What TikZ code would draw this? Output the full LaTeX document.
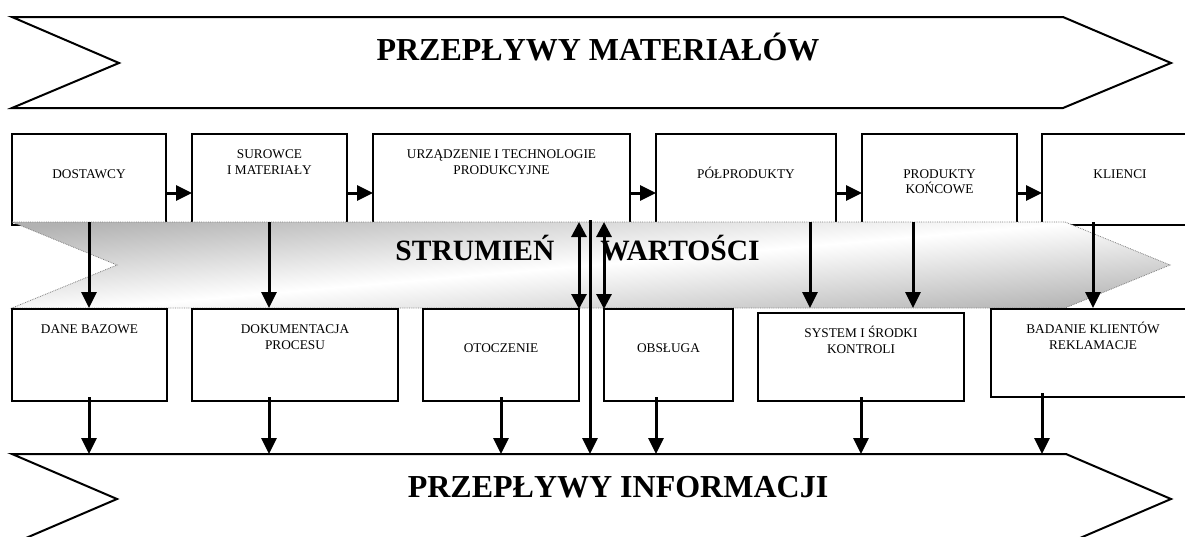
\documentclass[tikz,border=0pt]{standalone}
\usepackage{fontspec}
\setmainfont{Liberation Serif}
\usetikzlibrary{arrows.meta,calc}
\begin{document}
\begin{tikzpicture}[x=1pt,y=-1pt,
  box/.style={draw,line width=2pt,inner sep=0pt,outer sep=0pt,fill=white},
  lbl/.style={anchor=base,align=center,inner sep=0pt,font=\fontsize{13.3}{16}\selectfont},
  arr/.style={line width=3pt,-{Triangle[length=16pt,width=15pt]}},
  darr/.style={line width=3pt,{Triangle[length=15pt,width=15pt]}-{Triangle[length=15pt,width=15pt]}},
  big/.style={draw,line width=2pt,line join=miter},
  title/.style={anchor=base,inner sep=0pt,font=\fontsize{32}{38}\selectfont\bfseries}]
\useasboundingbox (0,0) rectangle (1185,536);

% top big arrow
\draw[big] (12,17) -- (1063,17) -- (1171,63) -- (1063,108) -- (12,108) -- (119,63) -- cycle;
\node[title] (tmat) at (598,60) {PRZEPŁYWY MATERIAŁÓW};

% top boxes
\node[box,minimum width=154pt,minimum height=91pt] (dost) at (89,179.5) {};
\node[box,minimum width=155pt,minimum height=91pt] (sur) at (269.5,179.5) {};
\node[box,minimum width=257pt,minimum height=91pt] (urz) at (501.5,179.5) {};
\node[box,minimum width=180pt,minimum height=91pt] (pol) at (746,179.5) {};
\node[box,minimum width=155pt,minimum height=91pt] (prod) at (939.5,179.5) {};
\node[box,minimum width=156pt,minimum height=91pt] (kli) at (1120,179.5) {};

\node[lbl] (tdost) at (89,178) {DOSTAWCY};
\node[lbl] (tsur) at (269.5,174) {SUROWCE\\I MATERIAŁY};
\node[lbl] (turz) at (501.5,174) {URZĄDZENIE I TECHNOLOGIE\\PRODUKCYJNE};
\node[lbl] (tpol) at (746,178) {PÓŁPRODUKTY};
\node[lbl,font=\fontsize{13.3}{15}\selectfont] (tprod) at (939.5,193) {PRODUKTY\\KOŃCOWE};
\node[lbl] (tkli) at (1120,178) {KLIENCI};

% horizontal arrows
\coordinate (h) at (0,193);
\draw[arr] (dost.east |- h) -- (sur.west |- h);
\draw[arr] (sur.east |- h) -- (urz.west |- h);
\draw[arr] (urz.east |- h) -- (pol.west |- h);
\draw[arr] (pol.east |- h) -- (prod.west |- h);
\draw[arr] (prod.east |- h) -- (kli.west |- h);

% middle shaded arrow
\path[top color=black!30,bottom color=black!30,middle color=white,shading angle=5,
      draw=gray,densely dotted,line width=0.8pt]
  (12,222) -- (1065,222) -- (1170,265) -- (1065,308) -- (12,308) -- (117,265) -- cycle;
\node[anchor=base,inner sep=0pt,font=\fontsize{29.5}{34}\selectfont\bfseries] (tstr) at (577.5,260) {STRUMIEŃ\hspace{46pt}WARTOŚCI};

% bottom boxes
\node[box,minimum width=155pt,minimum height=92pt] (dane) at (89.5,355) {};
\node[box,minimum width=206pt,minimum height=92pt] (dok) at (295,355) {};
\node[box,minimum width=156pt,minimum height=92pt] (oto) at (501,355) {};
\node[box,minimum width=129pt,minimum height=92pt] (obs) at (668.5,355) {};
\node[box,minimum width=206pt,minimum height=88pt] (sys) at (861,357) {};
\node[box,minimum width=204pt,minimum height=88pt] (bad) at (1093,353) {};

\node[lbl] (tdane) at (89.5,333) {DANE BAZOWE};
\node[lbl] (tdok) at (295,349) {DOKUMENTACJA\\PROCESU};
\node[lbl] (toto) at (501,352) {OTOCZENIE};
\node[lbl] (tobs) at (668.5,352) {OBSŁUGA};
\node[lbl] (tsys) at (861,353) {SYSTEM I ŚRODKI\\KONTROLI};
\node[lbl] (tbad) at (1093,349) {BADANIE KLIENTÓW\\REKLAMACJE};

% bottom big arrow
\draw[big] (12,454) -- (1066,454) -- (1171,499) -- (1066,544) -- (12,544) -- (117,499) -- cycle;
\node[title] (tinf) at (618,497) {PRZEPŁYWY INFORMACJI};

% vertical arrows through the value stream
\coordinate (m1) at (89,308);
\coordinate (m2) at (269,308);
\coordinate (m3) at (810,308);
\coordinate (m4) at (913,308);
\coordinate (m5) at (1093,308);
\draw[arr] ([yshift=3pt]dost.south -| m1) -- (m1);
\draw[arr] ([yshift=3pt]sur.south -| m2) -- (m2);
\draw[arr] ([yshift=3pt]pol.south -| m3) -- (m3);
\draw[arr] ([yshift=3pt]prod.south -| m4) -- (m4);
\draw[arr] ([yshift=3pt]kli.south -| m5) -- (m5);

% double arrows
\draw[darr] ([yshift=3pt]urz.south -| oto.north east) -- (oto.north east);
\draw[darr] ([yshift=3pt]urz.south -| obs.north west) -- (obs.north west);

% arrows to information flow
\coordinate (i1) at (89,454);
\coordinate (i2) at (269,454);
\coordinate (i3) at (501,454);
\coordinate (i4) at (590,454);
\coordinate (i5) at (656,454);
\coordinate (i6) at (861,454);
\coordinate (i7) at (1042,454);
\draw[arr] ([yshift=4pt]dane.south -| i1) -- (i1);
\draw[arr] ([yshift=4pt]dok.south -| i2) -- (i2);
\draw[arr] ([yshift=4pt]oto.south -| i3) -- (i3);
\draw[arr] ([yshift=5pt]urz.south -| i4) -- (i4);
\draw[arr] ([yshift=4pt]obs.south -| i5) -- (i5);
\draw[arr] ([yshift=4pt]sys.south -| i6) -- (i6);
\draw[arr] ([yshift=4pt]bad.south -| i7) -- (i7);
\end{tikzpicture}
\end{document}
